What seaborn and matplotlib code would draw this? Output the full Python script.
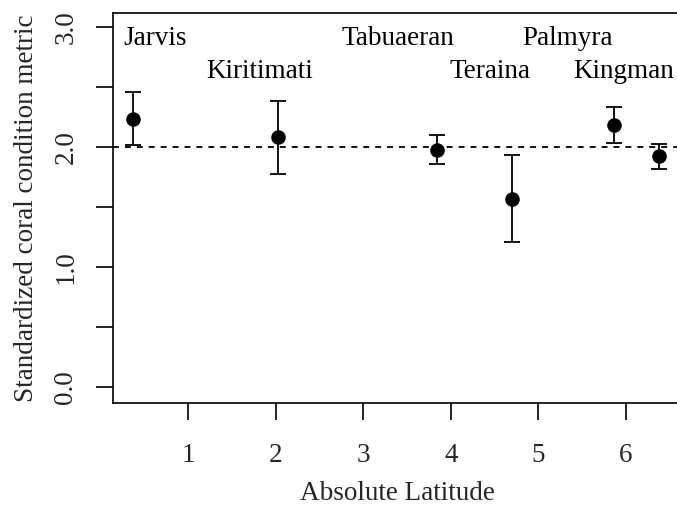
import matplotlib
matplotlib.use("Agg")
import matplotlib.pyplot as plt
import seaborn as sns
import pandas as pd

sites = ["Jarvis", "Kiritimati", "Tabuaeran", "Teraina", "Palmyra", "Kingman"]
latitude = [0.37, 2.03, 3.84, 4.70, 5.87, 6.38]
metric = [2.24, 2.09, 1.975, 1.57, 2.19, 1.925]
upper = [2.46, 2.39, 2.10, 1.94, 2.34, 2.03]
lower = [2.02, 1.78, 1.86, 1.21, 2.04, 1.82]
label_x = [0.62, 1.82, 3.40, 4.45, 5.33, 5.98]
label_y = [2.856, 2.58, 2.856, 2.58, 2.856, 2.58]
reference_level = 2.0

df = pd.DataFrame({"site": sites, "lat": latitude, "metric": metric,
                   "upper": upper, "lower": lower})

sns.set_theme(style="white")
plt.rcParams["font.family"] = ["Liberation Serif", "DejaVu Serif"]
FS = 19.5

fig = plt.figure(figsize=(6.77, 5.05), dpi=100)
ax = fig.add_axes([113 / 677, (505 - 403) / 505, 568 / 677, 390 / 505])

ax.axhline(reference_level, color="black", lw=1.3, ls=(0, (3.3, 3.3)), zorder=1)
ax.errorbar(df["lat"], df["metric"],
            yerr=[df["metric"] - df["lower"], df["upper"] - df["metric"]],
            fmt="none", ecolor="black", elinewidth=1.3, capsize=6, capthick=1.3,
            zorder=2)
sns.scatterplot(data=df, x="lat", y="metric", ax=ax, color="black", s=110,
                edgecolor="black", linewidth=0, zorder=3, legend=False)

for name, tx, ty in zip(sites, label_x, label_y):
    ax.text(tx, ty, name, ha="center", va="baseline", fontsize=FS, color="black")

ax.set_xlim(0.14, 6.63)
ax.set_ylim(-0.13, 3.12)
ax.set_xticks([1, 2, 3, 4, 5, 6])
ax.set_xticklabels(["1", "2", "3", "4", "5", "6"], fontsize=FS)
yt = [0.0, 0.5, 1.0, 1.5, 2.0, 2.5, 3.0]
ax.set_yticks(yt)
ax.set_yticklabels(["0.0", "", "1.0", "", "2.0", "", "3.0"], fontsize=FS,
                   rotation=90, va="center")
ax.tick_params(axis="both", which="major", length=12, width=1.2, color="black",
               direction="out", bottom=True, left=True)
ax.tick_params(axis="x", pad=16.5)
ax.tick_params(axis="y", pad=13)
ax.set_xlabel("Absolute Latitude", fontsize=FS, labelpad=10)
ax.set_ylabel("Standardized coral condition metric", fontsize=FS, labelpad=10)
for s in ax.spines.values():
    s.set_color("black")
    s.set_linewidth(1.2)
ax.grid(False)

fig.savefig("out.png", dpi=100)
